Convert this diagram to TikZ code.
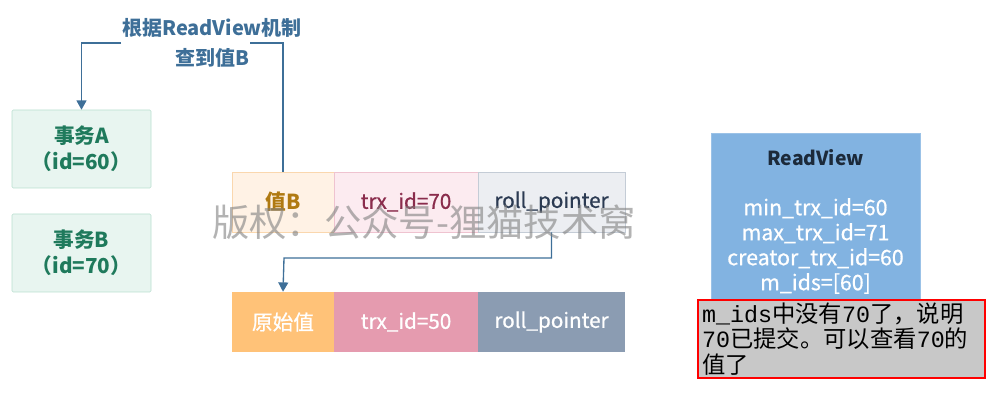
\documentclass[tikz,border=0pt]{standalone}
\usepackage{fontspec}
\newfontfamily\cjk{Noto Sans CJK SC}
\newfontfamily\cjkmed[FakeBold=0.8]{Noto Sans CJK SC}
\newfontfamily\monofont{Liberation Mono}
\usepackage{tikz}
\usetikzlibrary{arrows.meta}
\usepackage{xcolor}
\definecolor{linkblue}{HTML}{3E6F98}
\definecolor{txfill}{HTML}{E8F5F0}
\definecolor{txline}{HTML}{B9DFD0}
\definecolor{txtext}{HTML}{1F7A5C}
\definecolor{valfill}{HTML}{FFF2E5}
\definecolor{valline}{HTML}{FAD7AE}
\definecolor{valtext}{HTML}{B07A12}
\definecolor{trxfill}{HTML}{FCEBF0}
\definecolor{trxline}{HTML}{EFC3D0}
\definecolor{trxtext}{HTML}{8A2C4C}
\definecolor{rollfill}{HTML}{ECEEF2}
\definecolor{rollline}{HTML}{C4CCD6}
\definecolor{rolltext}{HTML}{2B3A52}
\definecolor{origfill}{HTML}{FFC278}
\definecolor{oldtrxfill}{HTML}{E59BAF}
\definecolor{oldrollfill}{HTML}{8B9CB2}
\definecolor{rvfill}{HTML}{82B3E1}
\definecolor{rvtitle}{HTML}{1C2A3A}
\definecolor{notefill}{HTML}{C8C8C8}

\begin{document}
\begin{tikzpicture}[x=0.75pt,y=0.75pt,yscale=-1,xscale=1,
  txbox/.style={draw=txline, fill=txfill, text=txtext, rounded corners=1pt, minimum width=104.25pt, minimum height=58.5pt, inner sep=0pt, align=center, font=\cjk\bfseries\fontsize{15.5}{19.5}\selectfont},
  cellbox/.style={minimum height=45pt, inner sep=0pt, font=\cjkmed\fontsize{15.5}{16}\selectfont},
  link/.style={draw=linkblue, line width=1pt}]
\path[use as bounding box] (0,0) rectangle (1008,402);

%Shape: transactions
\node [txbox] (txA) at (81.5,149) {事务A\\（id=60）};
\node [txbox] (txB) at (81.5,253) {事务B\\（id=70）};

%Shape: new version row
\node [cellbox, draw=valline, fill=valfill, text=valtext, minimum width=76.5pt, font=\cjk\bfseries\fontsize{15.5}{16}\selectfont] (valB) at (283,202) {值B};
\node [cellbox, draw=trxline, fill=trxfill, text=trxtext, minimum width=108pt] (trxB) at (406,202) {trx\_id=70};
\node [cellbox, draw=rollline, fill=rollfill, text=rolltext, minimum width=110.25pt] (rollB) at (551.5,202) {roll\_pointer};

%Shape: old version row
\node [cellbox, fill=origfill, text=white, minimum width=76.5pt] (orig) at (283,322) {原始值};
\node [cellbox, fill=oldtrxfill, text=white, minimum width=108pt] (trxO) at (406,322) {trx\_id=50};
\node [cellbox, fill=oldrollfill, text=white, minimum width=110.25pt] (rollO) at (551.5,322) {roll\_pointer};

% Text Node
\node [text=linkblue, align=center, font=\cjk\bfseries\fontsize{15}{22.5}\selectfont] (rule) at (212,43) {根据ReadView机制\\查到值B};

%Shape: lookup path
\coordinate (gapR) at (250,43);
\coordinate (gapL) at (121,43);
\draw [link] (valB.north) |- (gapR);
\draw [link, -{Triangle[width=7.5pt,length=7pt]}] (gapL) -| (txA.north);
\draw [link, -{Triangle[width=7.5pt,length=7pt]}] (rollB.south) |- (284,258) -- (orig.north);

% Text Node
\node [text=gray, opacity=0.6, font=\cjk\fontsize{28}{30}\selectfont] (mark) at (424,222) {版权：公众号-狸猫技术窝};

%Shape: read view
\node [fill=rvfill, draw=rvfill!80!white, minimum width=156.75pt, minimum height=132.75pt, inner sep=0pt, align=center, text=white, font=\cjkmed\fontsize{16}{18.75}\selectfont] (rv) at (815.5,221.5) {{\color{rvtitle}\cjk\bfseries\fontsize{14.5}{18.75}\selectfont ReadView}\\ \\min\_trx\_id=60\\max\_trx\_id=71\\creator\_trx\_id=60\\m\_ids=[60]};

%Shape: note
\node [fill=notefill, draw=red, line width=1.5pt, minimum width=215.25pt, minimum height=58.5pt, inner sep=2pt, text width=209pt, align=left, font=\cjk\fontsize{17.5}{19.2}\selectfont] (note) at (841.5,339) {{\monofont m\_ids}中没有{\monofont 70}了，说明\\{\monofont 70}已提交。可以查看{\monofont 70}的\\值了};

\end{tikzpicture}
\end{document}
